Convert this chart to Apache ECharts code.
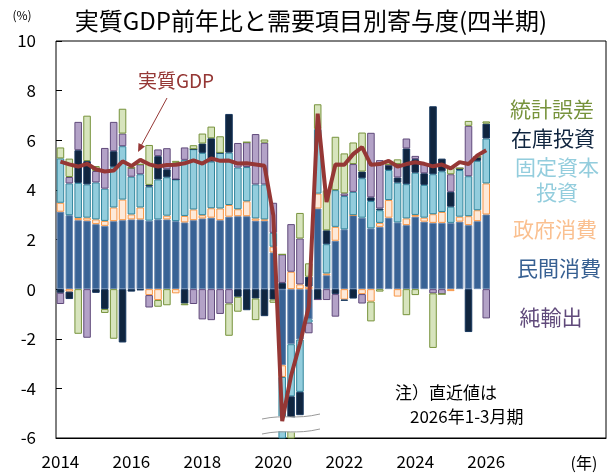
<!DOCTYPE html>
<html>
<head>
<meta charset="utf-8">
<script src="https://cdn.jsdelivr.net/npm/echarts@6/dist/echarts.min.js"></script>
<style>
  html, body { margin: 0; padding: 0; background: #fff; }
  #chartGdp { width: 616px; height: 476px; }
</style>
</head>
<body>
<div id="chartGdp"></div>
<script>
// 四半期カテゴリ (2014Q1〜2029Q2, データは2026Q1まで)
const years = [2014, 2015, 2016, 2017, 2018, 2019, 2020, 2021, 2022, 2023, 2024, 2025, 2026, 2027, 2028, 2029];
const quarters = [];
years.forEach(y => ['Q1', 'Q2', 'Q3', 'Q4'].forEach(q => quarters.push(y + q)));
quarters.length = 62;
const xLabels = ['2014', '2016', '2018', '2020', '2022', '2024', '2026'];

// 寄与度 (%pt)
const privCons = [3.12, 2.98, 2.78, 2.76, 2.62, 2.55, 2.74, 2.78, 2.81, 2.81, 2.76, 2.81, 2.81, 2.74, 2.69, 2.78,
  2.85, 2.88, 2.78, 2.92, 2.94, 2.94, 2.76, 2.76, 1.48, -3.07, -2.22, -2.03, -1.22, 3.25, 0.56, 1.95,
  2.41, 2.98, 2.88, 2.45, 2.51, 2.88, 2.69, 2.58, 2.92, 2.72, 2.67, 2.67, 2.67, 2.72, 2.58, 2.74, 3.01];
const govCons = [0.36, -0.1, 0.09, 0.12, 0.19, 0.2, 0.55, 0.83, 0.2, 0.48, -0.24, -0.44, 0.15, -0.17, 0.26, 0.43,
  0.13, 0.38, 0.47, 0.47, 0.28, 0.6, 0.09, 0.05, 0.23, -0.47, 0.7, 0.19, 0.1, 0.6, 0.07, 0.56,
  -0.42, 0, -0.2, -0.5, 0.16, 0.71, -0.3, 0.27, 0.07, 0.16, 0.35, 0.44, -0.08, 0.2, 0.36, 0.44, 1.25];
const fixedInv = [1.79, 1.28, 1.41, 1.34, 1.49, 1.3, 1.64, 2.15, 1.52, 1.34, 1.37, 1.61, 1.55, 1.68, 2.26, 2.43,
  2.51, 1.88, 2.24, 2.11, 1.68, 1.38, 1.37, 1.41, 0.56, -3.2, -2.1, -2.11, -0.13, 2.6, 1.18, 1.48,
  1.34, 0.94, 1.59, 1.1, 0.51, 1.21, 1.6, 1.38, 1.7, 1.32, 1.61, 1.64, 0.65, 1.88, 1.61, 1.99, 1.81];
const inventory = [-0.15, -0.3, 1.32, 0.94, -0.15, -0.8, 0.63, -2.15, -0.1, -0.05, 0.07, 0.94, 0.32, 0, -0.58, 0,
  0.38, 0.94, 0, 1.56, -0.31, -0.85, -0.38, -1.09, -0.42, 0.25, -1.4, -0.94, 0.4, -0.42, 0.56, -0.2,
  -0.05, -0.38, 0.27, 0.15, 0.07, 0.2, 0.21, 1.44, 0.55, 0.47, 2.74, 0.51, 0.6, 0.07, -1.73, 0.16, 0.6];
const netExp = [-0.45, 0.26, 1.14, -1.96, 0.46, 1.64, 1.18, 0.51, 0.36, 0.4, -0.5, 0.27, 0.85, 0.67, 0.5, -0.6,
  -1.22, -1.25, -1.0, -0.58, 0.99, 1.0, 2.03, 1.68, 1.21, 1.15, 1.92, 1.85, -0.43, 0, -0.44, -0.91,
  0.11, 1.12, -0.38, 2.6, 1.95, 0, 0.54, 0.4, 0.13, 0.38, -0.17, -0.2, 0.71, 0, 2.03, 0, -1.18];
const statDisc = [0.44, 0.74, -1.8, 1.83, 0.2, -0.16, -2.0, 1.0, 0, 0, 1.61, -0.27, -0.65, 0.08, -0.07, 0.16,
  0.4, 0.47, 0.67, -1.3, -0.6, 0, -0.87, 0.13, -0.13, 0, -0.4, 1.03, 0.54, 1.0, 1.61, 2.15,
  1.61, 0.87, 1.57, -0.8, -0.1, 0.15, 0.19, -1.05, -0.24, 0, -2.2, 0, 0.26, 0, 0.2, 0, 0.09];
// 実質GDP前年比 (%)
const realGdp = [5.14, 5.03, 4.94, 5.05, 4.83, 4.74, 4.78, 5.15, 4.96, 5.21, 5.03, 4.94, 5.0, 5.01, 5.07, 5.19,
  5.06, 5.27, 5.17, 5.18, 5.06, 5.07, 5.02, 4.97, 2.97, -5.32, -3.49, -2.19, -0.7, 7.07, 3.51, 5.02,
  5.01, 5.44, 5.72, 5.01, 5.04, 5.17, 4.94, 5.04, 5.11, 5.05, 4.95, 5.02, 4.87, 5.12, 5.04, 5.39, 5.6];

const FONT = '"Noto Sans CJK JP", "Noto Sans", sans-serif';

function barSeries(name, data, fill, border) {
  return {
    name: name,
    type: 'bar',
    stack: 'total',
    barCategoryGap: '15%',
    itemStyle: { color: fill, borderColor: border, borderWidth: 1 },
    data: data
  };
}

function txt(x, y, text, size, color, align) {
  return {
    type: 'text', x: x, y: y, z: 10,
    style: { text: text, font: size + 'px ' + FONT, fill: color, align: align || 'center', verticalAlign: 'middle' }
  };
}

const chartGdp = echarts.init(document.getElementById('chartGdp'));
const option = {
  animation: false,
  textStyle: { fontFamily: FONT },
  grid: { left: 56, right: 10, top: 41, bottom: 38, show: true, borderColor: '#000', borderWidth: 1 },
  xAxis: [
    {
      type: 'category',
      data: quarters,
      position: 'bottom',
      axisLine: { show: false },
      axisTick: { show: false },
      axisLabel: {
        interval: 0, margin: 15, fontSize: 17, color: '#000',
        formatter: v => (v.endsWith('Q1') && xLabels.includes(v.slice(0, 4))) ? v.slice(0, 4) : ''
      }
    },
    {
      // 0%ライン
      type: 'category',
      data: quarters,
      position: 'bottom',
      axisLine: { onZero: true, lineStyle: { color: '#000', width: 1 } },
      axisTick: { inside: true, length: 5, interval: 7, lineStyle: { color: '#000' } },
      axisLabel: { show: false }
    }
  ],
  yAxis: {
    type: 'value',
    min: -6,
    max: 10,
    interval: 2,
    axisLine: { show: false },
    axisTick: { show: true, inside: true, length: 6, lineStyle: { color: '#000' } },
    axisLabel: { fontSize: 17, color: '#000', margin: 20 },
    splitLine: { show: false }
  },
  series: [
    barSeries('民間消費', privCons, '#386295', '#6a88b0'),
    barSeries('政府消費', govCons, '#fde9d9', '#f79646'),
    barSeries('固定資本投資', fixedInv, '#93cddd', '#31859c'),
    barSeries('在庫投資', inventory, '#10253f', '#17375e'),
    barSeries('純輸出', netExp, '#b3a2c7', '#604a7b'),
    barSeries('統計誤差', statDisc, '#d7e4bd', '#77933c'),
    {
      name: '実質GDP',
      type: 'line',
      data: realGdp,
      symbol: 'none',
      z: 5,
      lineStyle: { color: '#953735', width: 4 }
    }
  ],
  graphic: [
    txt(311, 21, '実質GDP前年比と需要項目別寄与度(四半期)', 24, '#000'),
    txt(22, 15, '(%)', 12, '#000'),
    txt(584, 463, '(年)', 16, '#000'),
    // 凡例テキスト
    txt(552, 109, '統計誤差', 21, '#77933c'),
    txt(553, 138, '在庫投資', 21, '#10253f'),
    txt(557, 167, '固定資本', 21, '#93cddd'),
    txt(557, 192, '投資', 21, '#93cddd'),
    txt(555, 229, '政府消費', 21, '#fac090'),
    txt(559, 268, '民間消費', 21, '#376092'),
    txt(551, 317, '純輸出', 21, '#604a7b'),
    // 実質GDPラベルと矢印
    txt(176, 81, '実質GDP', 19, '#953735'),
    { type: 'line', z: 10, shape: { x1: 167, y1: 98, x2: 141, y2: 146 }, style: { stroke: '#953735', lineWidth: 1 } },
    { type: 'polygon', z: 10, shape: { points: [[138, 152], [145, 146.5], [138.5, 143]] }, style: { fill: '#953735' } },
    // 注記
    txt(395, 393, '注）直近値は', 17, '#000', 'left'),
    txt(410, 417, '2026年1-3月期', 17, '#000', 'left'),
    // 軸の省略記号
    { type: 'polygon', z: 4, shape: { points: [[262, 419], [280, 416], [300, 418], [320, 414], [320, 429], [300, 433], [280, 431], [262, 434]] }, style: { fill: '#fff' } },
    { type: 'bezierCurve', z: 4, shape: { x1: 262, y1: 419, cpx1: 285, cpy1: 414, cpx2: 295, cpy2: 420, x2: 320, y2: 414 }, style: { stroke: '#999', lineWidth: 1, fill: null } },
    { type: 'bezierCurve', z: 4, shape: { x1: 262, y1: 434, cpx1: 285, cpy1: 429, cpx2: 295, cpy2: 435, x2: 320, y2: 429 }, style: { stroke: '#999', lineWidth: 1, fill: null } }
  ]
};
chartGdp.setOption(option);
</script>
</body>
</html>
